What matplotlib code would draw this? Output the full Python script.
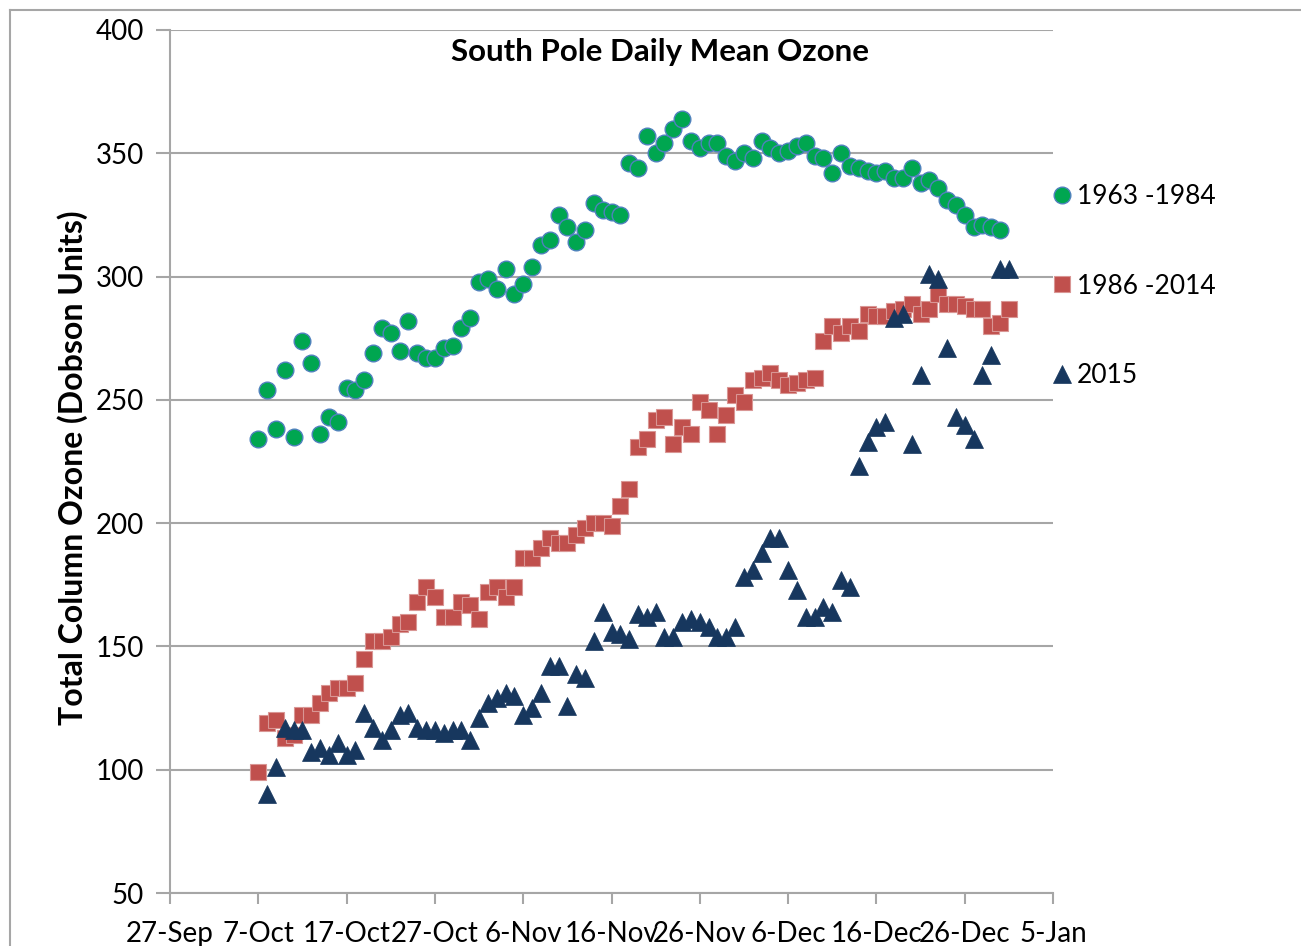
import numpy as np
import matplotlib
matplotlib.use('Agg')
import matplotlib.pyplot as plt
from matplotlib.lines import Line2D

plt.rcParams['font.family'] = ['Lato', 'DejaVu Sans']

# --- x 轴: 距 27-Sep 的天数 ---
tick_days = [0, 10, 20, 30, 40, 50, 60, 70, 80, 90, 100]
tick_labels = ['27-Sep', '7-Oct', '17-Oct', '27-Oct', '6-Nov', '16-Nov',
               '26-Nov', '6-Dec', '16-Dec', '26-Dec', '5-Jan']

# 第一个数据点对应的天 (7-Oct = 10, 8-Oct = 11)
start_1963 = 10
start_1986 = 10
start_2015 = 11

ozone_1963_1984 = [
    234, 254, 238, 262, 235, 274, 265, 236, 243, 241,
    255, 254, 258, 269, 279, 277, 270, 282, 269, 267,
    267, 271, 272, 279, 283, 298, 299, 295, 303, 293,
    297, 304, 313, 315, 325, 320, 314, 319, 330, 327,
    326, 325, 346, 344, 357, 350, 354, 360, 364, 355,
    352, 354, 354, 349, 347, 350, 348, 355, 352, 350,
    351, 353, 354, 349, 348, 342, 350, 345, 344, 343,
    342, 343, 340, 340, 344, 338, 339, 336, 331, 329,
    325, 320, 321, 320, 319,
]

ozone_1986_2014 = [
    99, 119, 120, 113, 114, 122, 122, 127, 131, 133,
    133, 135, 145, 152, 152, 154, 159, 160, 168, 174,
    170, 162, 162, 168, 167, 161, 172, 174, 170, 174,
    186, 186, 190, 194, 192, 192, 195, 198, 200, 200,
    199, 207, 214, 231, 234, 242, 243, 232, 239, 236,
    249, 246, 236, 244, 252, 249, 258, 259, 261, 258,
    256, 257, 258, 259, 274, 280, 277, 280, 278, 285,
    284, 284, 286, 287, 289, 285, 287, 293, 289, 289,
    288, 287, 287, 280, 281, 287,
]

ozone_2015 = [
    90, 101, 117, 116, 116, 107, 109, 106, 111, 106,
    108, 123, 117, 112, 116, 122, 123, 117, 116, 116,
    115, 116, 116, 112, 121, 127, 129, 131, 130, 122,
    125, 131, 142, 142, 126, 139, 137, 152, 164, 156,
    155, 153, 163, 162, 164, 154, 154, 160, 161, 160,
    158, 154, 154, 158, 178, 181, 188, 194, 194, 181,
    173, 162, 162, 166, 164, 177, 174, 223, 233, 239,
    241, 283, 285, 232, 260, 301, 299, 271, 243, 240,
    234, 260, 268, 303, 303,
]

series = [
    ('1963 -1984', start_1963, ozone_1963_1984),
    ('1986 -2014', start_1986, ozone_1986_2014),
    ('2015', start_2015, ozone_2015),
]
styles = {
    '1963 -1984': dict(marker='o', color='#00A650', mec='#4F81BD', mew=1.0, ms=12),
    '1986 -2014': dict(marker='s', color='#C0504D', mec='#D99694', mew=0.8, ms=11),
    '2015': dict(marker='^', color='#17375E', mec='#17375E', mew=0.5, ms=12.5),
}

fig = plt.figure(figsize=(13.01, 9.46), dpi=100)
ax = fig.add_axes([170 / 1301, 1 - 893 / 946, 883 / 1301, 863 / 946])

grey = '#A6A6A6'
for label, start, vals in series:
    days = start + np.arange(len(vals))
    ax.plot(days, vals, linestyle='none', label=label, **styles[label])

ax.set_xlim(0, 100)
ax.set_ylim(50, 400)
ax.set_xticks(tick_days)
ax.set_xticklabels(tick_labels, fontsize=20)
ax.set_yticks(np.arange(50, 401, 50))
ax.tick_params(axis='y', labelsize=20, length=10, width=1.5, color=grey, pad=9)
ax.tick_params(axis='x', length=8, width=1.5, color=grey, pad=12)
ax.grid(axis='y', color=grey, linewidth=1.5)
ax.set_axisbelow(True)
for side in ['top', 'right']:
    ax.spines[side].set_visible(False)
for side in ['left', 'bottom']:
    ax.spines[side].set_color(grey)
    ax.spines[side].set_linewidth(1.5)

ax.text((660 - 170) / 883, (893 - 52) / 863, 'South Pole Daily Mean Ozone',
        transform=ax.transAxes, ha='center', va='center', fontsize=22.5, fontweight='bold')
fig.text(73 / 1301, 1 - 468 / 946, 'Total Column Ozone (Dobson Units)',
         rotation=90, ha='center', va='center', fontsize=23, fontweight='bold')

ax.legend(loc='upper left', bbox_to_anchor=(1.0, (893 - 184) / 863), frameon=False,
          fontsize=19, handlelength=0.7, handletextpad=0.2, labelspacing=2.45,
          borderaxespad=0.0, borderpad=0.0)

# 外框 (左、上)
fig.add_artist(Line2D([10 / 1301, 10 / 1301], [0, 1 - 10 / 946], color=grey, lw=1.5))
fig.add_artist(Line2D([10 / 1301, 1], [1 - 10 / 946, 1 - 10 / 946], color=grey, lw=1.5))

fig.savefig('out.png', dpi=100)
